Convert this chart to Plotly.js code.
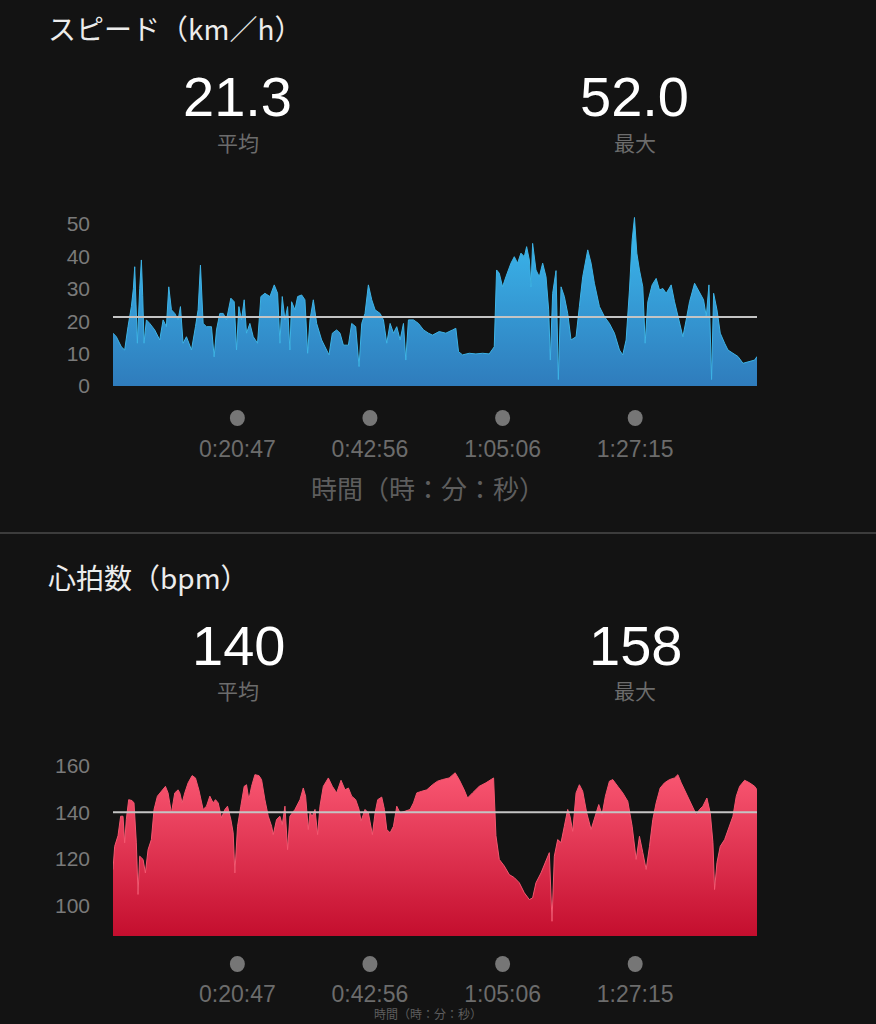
<!DOCTYPE html>
<html>
<head>
<meta charset="utf-8">
<script src="https://cdn.plot.ly/plotly-3.0.1.min.js"></script>
<style>
  html, body { margin: 0; padding: 0; background: #131313; }
  #chart { width: 876px; height: 1024px; }
</style>
</head>
<body>
<div id="chart"></div>
<script>
// ---- Data (elapsed time in minutes) ----
const speedMin = [0,0.56,1.39,1.95,2.51,3.07,3.40,3.63,3.85,4.07,
  4.46,4.74,4.96,5.19,5.58,6.14,6.97,7.81,8.37,8.92,
  9.32,9.76,10.32,10.88,11.27,11.71,12.27,13.11,13.78,14.22,
  14.61,15.06,15.62,16.45,16.90,17.29,17.85,18.41,18.96,19.69,
  20.25,20.64,21.03,21.47,21.92,22.31,22.87,23.43,24.15,24.71,
  25.38,26.22,26.94,27.50,27.89,28.28,28.73,29.17,29.56,29.84,
  30.40,30.85,31.52,32.07,32.52,32.91,33.47,34.03,34.86,35.70,
  36.09,36.65,37.37,37.93,38.49,39.33,39.88,40.55,41.11,41.56,
  42.11,42.67,43.23,43.79,44.62,45.18,45.74,46.30,46.86,47.41,
  47.97,48.53,48.92,49.36,50.20,51.04,51.88,52.71,53.38,54.50,
  55.61,56.73,57.28,57.73,58.40,59.52,60.63,61.75,62.86,63.70,
  64.09,64.54,65.09,65.65,66.49,67.05,67.60,68.16,68.72,69.11,
  69.56,69.84,70.11,70.67,71.23,71.79,72.35,72.79,73.07,73.46,
  74.02,74.41,74.86,75.41,75.97,76.53,77.37,77.92,78.48,79.32,
  79.88,80.43,81.27,82.11,82.94,83.78,84.62,85.17,85.73,86.29,
  86.74,87.13,87.52,87.96,88.52,88.91,89.36,90.08,90.75,91.31,
  91.87,92.43,93.26,93.82,94.66,95.22,95.77,96.33,97.17,98.00,
  98.67,99.12,99.57,100.01,100.35,100.91,101.46,102.19,102.75,103.58,
  104.42,105.26,106.37,107.21,107.6];
const speedKmh = [16.3,15.2,12.1,11.1,18.3,24.5,30,36.8,25,13.2,
  30,38.9,28,13.2,20.4,19.3,17.3,14.2,20.4,18.3,
  30.6,23.5,22.4,20.4,24.5,13.2,15.2,11.1,18.3,23.5,
  37.3,19.3,18.3,18.3,9.0,17.3,22.4,22.4,20.4,27.1,
  26.0,11.1,24.5,20.4,26.6,16.3,19.3,15.2,13.2,27.6,
  28.6,27.6,31.2,28.6,13.2,27.6,20.4,24.5,11.1,26.0,
  23.5,27.6,28.1,26.6,10.1,20.4,26.6,19.3,14.2,11.1,
  9.6,16.3,17.3,16.3,12.6,12.6,19.3,18.3,6.0,19.3,
  22.4,31.2,26.6,23.5,22.4,20.4,13.2,19.3,16.3,18.3,
  14.2,19.3,8.0,20.4,20.4,19.3,17.3,16.3,15.7,16.8,
  16.3,17.3,17.8,10.6,9.6,10.1,9.9,10.1,9.9,12.1,
  35.8,34.8,30.6,33.7,37.9,39.9,37.9,41.0,39.9,43.0,
  38.9,30.6,44.0,35.8,33.7,37.9,33.7,23.5,8.0,28.6,
  35.6,2.0,30.6,27.6,22.4,14.2,15.2,24.5,33.7,42.0,
  37.9,31.7,24.5,21.4,19.3,16.3,11.1,9.6,14.2,29.6,
  45.0,52.0,41.0,35.8,30.6,13.2,26.0,31.2,33.2,29.6,
  30.1,28.6,31.2,26.0,19.3,15.2,20.4,26.0,31.7,28.6,
  26.6,21.4,31.2,2.0,28.6,23.5,16.3,13.2,11.1,10.1,
  9.1,7.0,7.5,8.0,9.1];

const hrMin = [0,0.28,0.84,1.28,1.67,1.95,2.23,2.62,3.18,3.51,
  3.90,4.18,4.46,5.02,5.41,5.86,6.41,6.86,7.42,8.09,
  8.76,9.20,9.76,10.32,10.88,11.16,11.55,11.99,12.55,13.22,
  13.78,14.34,15.06,15.62,16.18,16.73,17.12,17.57,18.13,18.69,
  19.13,19.69,20.08,20.36,20.81,21.36,21.92,22.31,22.70,23.15,
  23.71,24.38,24.82,25.38,25.94,26.50,26.77,27.33,27.89,28.28,
  28.73,29.17,29.56,30.40,31.24,31.79,32.18,32.63,32.91,33.30,
  33.75,34.19,34.58,35.14,35.98,36.65,37.37,38.10,38.77,39.33,
  39.88,40.55,41.11,41.44,42.11,42.67,43.34,43.79,44.23,44.90,
  45.35,45.74,46.30,46.86,47.41,47.97,48.81,49.64,50.20,50.76,
  51.60,52.43,53.38,54.22,55.05,56.17,57.17,57.84,58.68,59.24,
  60.07,61.19,62.30,63.14,63.59,63.98,64.54,65.37,66.21,67.05,
  67.88,68.72,69.56,70.11,70.67,71.51,72.35,72.90,73.35,73.74,
  74.30,74.86,75.41,75.97,76.36,76.81,77.37,77.92,78.48,79.15,
  79.88,80.60,81.16,81.72,82.27,82.94,83.50,84.34,85.17,86.01,
  86.74,87.41,87.96,88.52,89.08,89.64,90.19,90.75,91.42,92.15,
  92.98,93.82,94.38,94.94,95.77,96.61,97.45,98.00,98.56,99.23,
  99.79,100.24,100.51,100.91,101.46,102.19,102.91,103.58,104.14,104.70,
  105.53,106.37,107.21,107.6];
const hrBpm = [115.5,125.4,130,138.3,138.3,126.9,137,145.4,145,144,
  126.9,104.8,121.2,119.8,114,124,128.3,141.2,146.9,149,
  151.1,148.3,139.7,148.3,149.6,148.3,144,148.3,152.6,155.7,
  154.7,149.6,141.2,142.6,146.9,144,145.4,144,137.6,141.2,
  142.6,136.9,131.2,114,134,142.6,151.1,151.8,145.4,151.1,
  156.1,155.7,154,145.4,138.3,134,130.4,136.9,138.3,134.7,
  142.6,124,138.3,141.2,145.4,150.4,146.9,132.6,139.7,138.3,
  141.2,130.4,142.6,151.1,154.7,151.1,148.3,153.7,149.6,150.4,
  146.9,145.4,141.2,136.2,141.2,139.7,130.4,139.7,145.4,146.5,
  141.2,132.6,131.2,134,142.6,139.7,140.4,141.2,144,148.3,
  149,149.6,151.8,153.3,154,154.7,156.9,154,149.6,146.1,
  148.3,151.1,152.6,154,154.7,130,119.8,117,113.3,112,
  109.8,105.5,102.6,103.3,109.8,114,119.8,122.7,93.3,121.2,
  128.3,127,134,141.2,138.3,131.8,148.3,151.8,149,139.7,
  132.6,138.3,143.3,139,146.9,153.3,154,151.1,148.3,144.7,
  134,119.8,129.7,122.7,115.5,125.4,136.9,144,150.4,152.6,
  154,154.7,156.1,152.6,148.3,144,139,141.2,142.6,146.1,
  139.7,127,106.9,118.4,125.4,128.3,134,138.3,146.9,151.1,
  153.7,152.6,151.1,149.6];

const timeTickVals = [20.78, 42.93, 65.10, 87.25];
const timeTickText = ['0:20:47', '0:42:56', '1:05:06', '1:27:15'];
const speedAvg = 21.3, speedMax = 52.0;
const hrAvg = 140, hrMax = 158;
const speedTicks = [0, 10, 20, 30, 40, 50];
const hrTicks = [100, 120, 140, 160];
const totalMin = 107.6;

// ---- Styling ----
const BG = '#131313';
const JP = "'Noto Sans CJK JP', 'Noto Sans', sans-serif";
const NUM = "'Liberation Sans', Arial, sans-serif";
const H = 1024, W = 876;
const py = p => 1 - p / H;   // pixel row -> paper y
const px = p => p / W;       // pixel col -> paper x

const traces = [
  {
    x: speedMin, y: speedKmh, xaxis: 'x', yaxis: 'y',
    type: 'scatter', mode: 'lines', fill: 'tozeroy',
    line: { color: '#3db3e6', width: 1 },
    fillgradient: { type: 'vertical', start: 0, stop: 50,
      colorscale: [[0, '#2f7cbc'], [1, '#3bb9ee']] },
    hoverinfo: 'skip'
  },
  {
    x: hrMin, y: hrBpm, xaxis: 'x2', yaxis: 'y2',
    type: 'scatter', mode: 'lines', fill: 'tozeroy',
    line: { color: '#f4566f', width: 1 },
    fillgradient: { type: 'vertical', start: 87, stop: 158,
      colorscale: [[0, '#c40e2e'], [1, '#fa5873']] },
    hoverinfo: 'skip'
  }
];

const xBase = {
  range: [0, totalMin], showgrid: false, zeroline: false, showline: false,
  tickvals: timeTickVals, ticktext: timeTickText, ticks: '',
  tickfont: { family: NUM, size: 23, color: '#6c6c6c' },
  ticklabelstandoff: 47, fixedrange: true
};
const yBase = {
  showgrid: false, zeroline: false, showline: false, ticks: '',
  tickfont: { family: NUM, size: 21, color: '#7a7a7a' },
  ticklabelstandoff: 22, fixedrange: true
};

const ann = (text, x, y, size, color, family, anchor, yanchor) => ({
  text, x, y, xref: 'paper', yref: 'paper', showarrow: false,
  xanchor: anchor || 'center', yanchor: yanchor || 'middle',
  font: { size, color, family }
});

// tick dots above the time labels (one per tick value)
const dot = (xref, v, rowPx) => ({
  type: 'circle', xref, yref: 'paper',
  xsizemode: 'pixel', ysizemode: 'pixel',
  xanchor: v, yanchor: py(rowPx),
  x0: -7.5, x1: 7.5, y0: -8, y1: 8,
  fillcolor: '#767676', line: { width: 0 }
});

const layout = {
  width: W, height: H,
  margin: { l: 0, r: 0, t: 0, b: 0 },
  paper_bgcolor: BG, plot_bgcolor: BG,
  showlegend: false, hovermode: false,
  xaxis: Object.assign({}, xBase, { domain: [px(113), px(757)], anchor: 'y' }),
  yaxis: Object.assign({}, yBase, { range: [0, 54], tickvals: speedTicks,
    domain: [py(386), py(211)], anchor: 'x' }),
  xaxis2: Object.assign({}, xBase, { domain: [px(113), px(757)], anchor: 'y2',
    ticklabelstandoff: 42 }),
  yaxis2: Object.assign({}, yBase, { range: [87, 162], tickvals: hrTicks,
    domain: [py(936), py(760.9)], anchor: 'x2' }),
  shapes: [
    { type: 'line', xref: 'x', yref: 'y', x0: 0, x1: totalMin, y0: speedAvg, y1: speedAvg,
      line: { color: '#c4c4c4', width: 2 } },
    { type: 'line', xref: 'x2', yref: 'y2', x0: 0, x1: totalMin, y0: hrAvg, y1: hrAvg,
      line: { color: '#c4c4c4', width: 2 } },
    { type: 'line', xref: 'paper', yref: 'paper', x0: 0, x1: 1, y0: py(533), y1: py(533),
      line: { color: '#3c3c3c', width: 2 } }
  ].concat(timeTickVals.map(v => dot('x', v, 418)))
   .concat(timeTickVals.map(v => dot('x2', v, 964))),
  annotations: [
    ann('スピード（km／h）', px(46), py(28), 28, '#ececec', JP, 'left'),
    ann(speedAvg.toFixed(1), px(237), py(96), 56, '#ffffff', NUM),
    ann('平均', px(238), py(142), 21, '#6c6c6c', JP),
    ann(speedMax.toFixed(1), px(634), py(96), 56, '#ffffff', NUM),
    ann('最大', px(635), py(142), 21, '#6c6c6c', JP),
    ann('時間（時：分：秒）', px(428), py(487), 26, '#5e5e5e', JP),
    ann('心拍数（bpm）', px(46), py(577), 28, '#ececec', JP, 'left'),
    ann(String(hrAvg), px(238), py(645), 56, '#ffffff', NUM),
    ann('平均', px(238), py(690), 21, '#6c6c6c', JP),
    ann(String(hrMax), px(635), py(645), 56, '#ffffff', NUM),
    ann('最大', px(635), py(690), 21, '#6c6c6c', JP),
    ann('時間（時：分：秒）', px(428), 0, 12, '#5e5e5e', JP, 'center', 'bottom')
  ]
};

Plotly.newPlot('chart', traces, layout, { staticPlot: true, displayModeBar: false });
</script>
</body>
</html>
